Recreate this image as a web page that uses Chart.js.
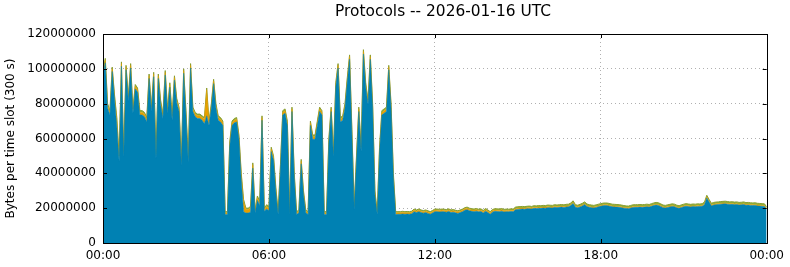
<!DOCTYPE html>
<html>
<head>
<meta charset="utf-8">
<script src="https://cdn.jsdelivr.net/npm/chart.js@4/dist/chart.umd.min.js"></script>
<style>
html,body{margin:0;padding:0;background:#fff;overflow:hidden;}
#wrap{width:790px;height:267px;}
canvas{display:block;}
</style>
</head>
<body>
<div id="wrap"><canvas id="c" width="790" height="267"></canvas></div>
<script>
// 5-minute slots (300 s) from 00:00 to 24:00, values in millions of bytes
const chartTitle = "Protocols -- 2026-01-16 UTC";
const yAxisTitle = "Bytes per time slot (300 s)";
const xTickLabels = ["00:00", "06:00", "12:00", "18:00", "00:00"];
const yTickValues = [0, 20000000, 40000000, 60000000, 80000000, 100000000, 120000000];

// bottom layer (blue)
const layer1MB = [
95.5,103.5,77.5,73.5,98.5,82.5,67,47,101.5,49.5,
99.5,81.5,100.5,74.5,88.5,86.5,73.5,73.5,72.5,69.5,
94.5,75.5,95.5,48.5,94.5,79.5,71.5,96.5,74.5,89.5,
70.5,93.5,80.5,75.5,44.5,97.5,73.5,46.5,100.5,75.5,
72.5,71.5,71.5,70.5,68.5,73,67.5,77.5,91.5,77.5,
70.5,69.5,67.5,16.3,16.3,55.5,67.5,69,69.5,59.5,
36,18,17.2,17.2,17.7,43,17.3,24.5,21.5,70.5,
18.3,19.5,18.5,52.5,47.5,29.5,16.3,42.5,73.5,74.5,
67.5,16.3,75.5,37.5,16.3,17.3,45.5,27.5,17.3,16.3,
67.5,59.5,59.5,67.5,75.5,73.5,16.3,16.3,57.5,75.5,
49.5,89.5,100.5,69.5,70.5,77.5,92.5,105.5,62.5,19.3,
47.5,75.5,52.5,108.5,89.5,79.5,105.5,77.5,27.5,16.3,
52.5,73.5,74.5,75.5,99.5,77.5,37.5,16.3,
16.5,16.5,16.7,16.5,16.6,16.5,16.8,18,17.5,18,
17.5,17.1,17.5,17,16.5,17.2,18,18,17.8,18,
17.9,17.7,18.1,17.5,17.7,17.3,17,17.5,18,18.8,
19.1,18.5,18.2,18,18.3,17.9,18.1,17.2,18.3,17.5,
16.5,17.7,18.2,18.1,18,18.3,17.8,18,17.9,18.1,
18,19.1,19.3,19.4,19.5,19.4,19.6,19.7,19.5,19.9,
19.8,20,19.9,20.1,20,20.3,20.2,20.1,20.5,20.3,
20.5,20.6,20.4,20.7,20.8,21.5,22.7,20.5,20.2,20.7,
21.3,22.1,20.9,20.5,20.3,20.1,20.4,20.8,21.1,21.4,
21.5,21.4,21.1,20.8,20.7,20.6,20.5,20.3,20,19.8,
19.7,20.1,20.4,20.5,20.5,20.6,20.5,20.6,20.8,20.6,
21.1,21.5,21.8,21.6,21,20.3,20.1,20.4,20.7,21,
20.8,20.2,19.9,20.4,20.8,21.1,20.9,20.7,20.9,20.8,
21,20.9,21.1,22,25.9,23.5,21.3,21.8,22,22.1,
22.3,22.4,22.5,22.3,22.1,22.2,22,22.1,21.8,21.9,
22.1,21.7,21.8,21.6,21.5,21.6,21.3,21.2,21.1,21,19.3
];

// middle layer (orange)
const layer2MB = [
1.5,1.5,1.5,1.5,1.5,1.5,4,2,1.5,1.5,
1.5,1.5,1.5,1.5,1.5,1.5,1.5,1.5,1.5,1.5,
1.5,1.5,1.5,1.5,1.5,1.5,1.5,1.5,1.5,1.5,
1.5,1.5,1.5,1.5,1.5,1.5,1.5,1.5,1.5,1.5,
1.5,1.5,1.5,1.5,2.5,15,1.5,1.5,1.5,1.5,
1.5,1.5,1.5,1,1,1.5,1.5,1.5,1.5,1.5,
3,6,2,2,2.5,2,1,1.5,1.5,1.5,
1,1.5,1.5,1.5,1.5,1.5,1,1.5,1.5,1.5,
1.5,1,1.5,1.5,1,1,1.5,1.5,1,1,
1.5,1.5,1.5,1.5,1.5,1.5,1,1,1.5,1.5,
1.5,1.5,1.5,1.5,1.5,1.5,1.5,1.5,1.5,1,
1.5,1.5,1.5,1.5,1.5,1.5,1.5,1.5,1.5,1,
1.5,1.5,1.5,1.5,1.5,1.5,1.5,1,
0.8,0.8,0.9,0.8,0.8,0.9,0.8,0.9,0.8,0.9,0.8,0.8,0.9,0.8,0.8,0.8,0.9,0.8,0.8,0.9,
0.8,0.8,0.9,0.8,0.8,0.8,0.9,0.8,0.8,0.9,0.8,0.8,0.8,0.9,0.8,0.8,0.8,0.9,0.8,0.8,
0.8,0.8,0.8,0.7,0.7,0.8,0.7,0.7,0.7,0.7,0.7,0.6,0.6,0.7,0.6,0.6,0.6,0.7,0.6,0.6,
0.6,0.6,0.6,0.5,0.6,0.6,0.5,0.6,0.6,0.5,0.5,0.6,0.5,0.5,0.5,0.5,0.6,0.5,0.5,0.5,
0.5,0.5,0.5,0.5,0.4,0.5,0.5,0.5,0.4,0.5,0.5,0.5,0.4,0.5,0.5,0.4,0.5,0.5,0.4,0.5,
0.5,0.4,0.5,0.5,0.4,0.5,0.5,0.4,0.5,0.5,0.4,0.5,0.5,0.4,0.5,0.5,0.4,0.5,0.5,0.4,
0.5,0.5,0.4,0.5,0.5,0.4,0.5,0.5,0.4,0.5,0.5,0.4,0.5,0.5,0.6,0.5,0.5,0.4,0.5,0.5,
0.4,0.5,0.5,0.4,0.5,0.5,0.4,0.5,0.5,0.4,0.5,0.5,0.4,0.5,0.5,0.4,0.5,0.5,0.4,0.5,0.5
];

// top layer (green)
const layer3MB = [
1,1,1,1,1,1,1,1,1,1,
1,1,1,1,1,1,1,1,1,1,
1,1,1,1,1,1,1,1,1,1,
1,1,1,1,1,1,1,1,1,1,
1,1,1,1,1,1,1,1,1,1,
1,1,1,0.7,0.7,1,1,1,1,1,
1,1,0.8,0.8,0.8,1,0.7,1,1,1,
0.7,1,1,1,1,1,0.7,1,1,1,
1,0.7,1,1,0.7,0.7,1,1,0.7,0.7,
1,1,1,1,1,1,0.7,0.7,1,1,
1,1,1,1,1,1,1,1,1,0.7,
1,1,1,1,1,1,1,1,1,0.7,
1,1,1,1,1,1,1,0.7,
0.7,0.7,0.6,0.7,0.7,0.6,0.7,0.6,0.7,0.6,0.7,0.7,0.6,0.7,0.7,0.7,0.6,0.7,0.7,0.6,
0.7,0.7,0.6,0.7,0.7,0.7,0.6,0.7,0.7,0.6,0.7,0.7,0.7,0.6,0.7,0.7,0.7,0.6,0.7,0.7,
0.7,0.7,0.7,0.8,0.8,0.7,0.8,0.8,0.8,0.8,0.8,0.9,0.9,0.8,0.9,0.9,0.9,0.8,0.9,0.9,
0.9,0.9,0.9,1.0,0.9,0.9,1.0,0.9,0.9,1.0,1.0,0.9,1.0,1.0,1.0,1.0,0.9,1.0,1.0,1.0,
1.0,1.0,1.0,1.0,1.1,1.0,1.0,1.0,1.1,1.0,1.0,1.0,1.1,1.0,1.0,1.1,1.0,1.0,1.1,1.0,
1.0,1.1,1.0,1.0,1.1,1.0,1.0,1.1,1.0,1.0,1.1,1.0,1.0,1.1,1.0,1.0,1.1,1.0,1.0,1.1,
1.0,1.0,1.1,1.0,1.0,1.1,1.0,1.0,1.1,1.0,1.0,1.1,1.0,1.0,0.9,1.0,1.0,1.1,1.0,1.0,
1.1,1.0,1.0,1.1,1.0,1.0,1.1,1.0,1.0,1.1,1.0,1.0,1.1,1.0,1.0,1.1,1.0,1.0,1.1,1.0,1.0
];

const SLOTS_PER_DAY = 288;
const toPoints = arr => arr.map((v, i) => ({ x: i, y: v * 1e6 }));

const framePlugin = {
  id: 'frame',
  afterDatasetsDraw(chart) {
    const { ctx, chartArea: a, scales } = chart;
    ctx.save();
    ctx.strokeStyle = '#000';
    ctx.lineWidth = 1;
    ctx.beginPath();
    yTickValues.forEach(v => {
      const y = Math.round(scales.y.getPixelForValue(v)) + 0.5;
      ctx.moveTo(a.left, y); ctx.lineTo(a.left + 4, y);
      ctx.moveTo(a.right, y); ctx.lineTo(a.right - 4, y);
    });
    xTickLabels.forEach((_, k) => {
      const x = Math.round(scales.x.getPixelForValue(k * 72)) + 0.5;
      ctx.moveTo(x, a.top); ctx.lineTo(x, a.top + 4);
      ctx.moveTo(x, a.bottom); ctx.lineTo(x, a.bottom - 4);
    });
    ctx.stroke();
    ctx.strokeRect(Math.round(a.left) + 0.5, Math.round(a.top) + 0.5,
                   Math.round(a.right - a.left), Math.round(a.bottom - a.top));
    ctx.fillStyle = '#000';
    ctx.font = '15.4px "DejaVu Sans"';
    ctx.textAlign = 'center';
    ctx.textBaseline = 'middle';
    ctx.fillText(chartTitle, 443, 12);
    ctx.restore();
  }
};

new Chart(document.getElementById('c'), {
  type: 'line',
  data: {
    datasets: [
      { data: toPoints(layer1MB), backgroundColor: '#0081b3', borderColor: '#0081b3', borderWidth: 0.5, fill: 'origin' },
      { data: toPoints(layer2MB), backgroundColor: '#e69f00', borderColor: '#e69f00', borderWidth: 0.5, fill: '-1' },
      { data: toPoints(layer3MB), backgroundColor: '#8fb03a', borderColor: '#8a9e30', borderWidth: 1, fill: '-1' }
    ]
  },
  plugins: [framePlugin],
  options: {
    responsive: false,
    animation: false,
    events: [],
    layout: { padding: { top: 34, right: 20.7, left: 0, bottom: 0 } },
    elements: { point: { radius: 0 }, line: { tension: 0 } },
    plugins: { legend: { display: false }, tooltip: { enabled: false }, title: { display: false } },
    scales: {
      x: {
        type: 'linear', min: 0, max: SLOTS_PER_DAY,
        afterFit: s => { s.height = 24; },
        afterBuildTicks: s => { s.ticks = xTickLabels.map((_, k) => ({ value: k * 72 })); },
        ticks: {
          padding: 6, color: '#000', font: { family: 'DejaVu Sans', size: 12 },
          maxRotation: 0, autoSkip: false,
          callback: v => xTickLabels[Math.round(v / 72)]
        },
        grid: {
          drawTicks: false,
          color: c => (c.tick && (c.tick.value === 0 || c.tick.value === SLOTS_PER_DAY)) ? 'rgba(0,0,0,0)' : '#b0b0b0',
          lineWidth: 1
        },
        border: { display: false, dash: [1, 3] }
      },
      y: {
        stacked: true, min: 0, max: 120000000,
        afterFit: s => { s.width = 103; },
        afterBuildTicks: s => { s.ticks = yTickValues.map(v => ({ value: v })); },
        ticks: {
          padding: 7, color: '#000', font: { family: 'DejaVu Sans', size: 12 },
          callback: v => String(v)
        },
        grid: {
          drawTicks: false,
          color: c => (c.tick && (c.tick.value === 0 || c.tick.value === 120000000)) ? 'rgba(0,0,0,0)' : '#b0b0b0',
          lineWidth: 1
        },
        border: { display: false, dash: [1, 3] },
        title: {
          display: true, text: yAxisTitle, color: '#000',
          font: { family: 'DejaVu Sans', size: 12 }, padding: { top: 4, bottom: 0 }
        }
      }
    }
  }
});
</script>
</body>
</html>
